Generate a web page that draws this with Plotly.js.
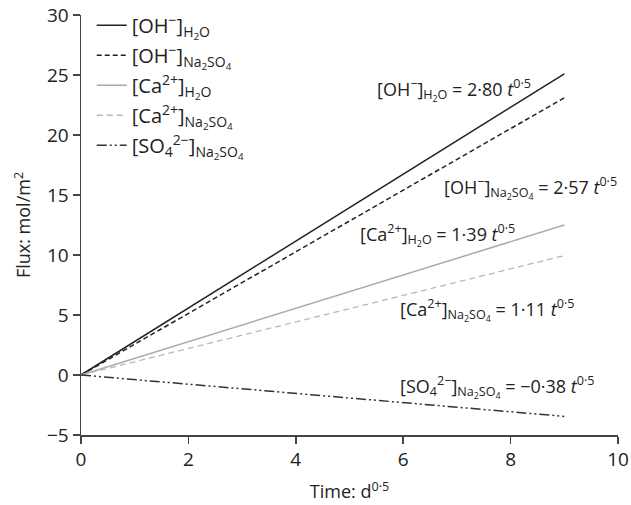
<!DOCTYPE html>
<html><head><meta charset="utf-8">
<script src="https://cdn.plot.ly/plotly-3.0.1.min.js"></script>
<style>html,body{margin:0;padding:0;background:#fff}</style>
</head><body>
<div id="chart" style="width:631px;height:505px"></div>
<script>
const timeX = [0, 9];
const ohH2O = [0, 25.1];
const ohNa2SO4 = [0, 23.1];
const caH2O = [0, 12.5];
const caNa2SO4 = [0, 9.95];
const so4Na2SO4 = [0, -3.45];
const seriesNames = [
  '[OH<sup>−</sup>]<sub>H<sub>2</sub>O</sub>',
  '[OH<sup>−</sup>]<sub>Na<sub>2</sub>SO<sub>4</sub></sub>',
  '[Ca<sup>2+</sup>]<sub>H<sub>2</sub>O</sub>',
  '[Ca<sup>2+</sup>]<sub>Na<sub>2</sub>SO<sub>4</sub></sub>',
  '[SO<sub>4</sub><sup>2−</sup>]<sub>Na<sub>2</sub>SO<sub>4</sub></sub>'
];
const eqTexts = [
  '[OH<sup>−</sup>]<sub>H<sub>2</sub>O</sub> = 2·80 <i>t</i><sup>0·5</sup>',
  '[OH<sup>−</sup>]<sub>Na<sub>2</sub>SO<sub>4</sub></sub> = 2·57 <i>t</i><sup>0·5</sup>',
  '[Ca<sup>2+</sup>]<sub>H<sub>2</sub>O</sub> = 1·39 <i>t</i><sup>0·5</sup>',
  '[Ca<sup>2+</sup>]<sub>Na<sub>2</sub>SO<sub>4</sub></sub> = 1·11 <i>t</i><sup>0·5</sup>',
  '[SO<sub>4</sub><sup>2−</sup>]<sub>Na<sub>2</sub>SO<sub>4</sub></sub> = −0·38 <i>t</i><sup>0·5</sup>'
];
const eqX = [8.42, 10, 5.16, 5.9, 5.9];
const eqY = [23.75, 15.6, 11.67, 5.42, -1.0];
const eqAnchor = ['right', 'right', 'left', 'left', 'left'];
const eqShift = [0, 1, 0, 0, 0];

const ys = [ohH2O, ohNa2SO4, caH2O, caNa2SO4, so4Na2SO4];
const colors = ['#222222', '#222222', '#aaaaaa', '#b8b8b8', '#333333'];
const dashes = ['solid', '5px,3px', 'solid', '6px,4px', '10px,3px,2px,3px,2px,3px'];
const widths = [1.5, 1.5, 1.5, 1.3, 1.5];

const traces = ys.map((y, i) => ({
  x: timeX, y: y, type: 'scatter', mode: 'lines', name: seriesNames[i],
  legendgroup: 'g' + i,
  line: {color: colors[i], dash: dashes[i], width: widths[i]}
}));

const font = 'Open Sans, Noto Sans, sans-serif';
const layout = {
  width: 631, height: 505,
  margin: {l: 81, r: 13, t: 15, b: 70, autoexpand: false},
  paper_bgcolor: '#fff', plot_bgcolor: '#fff',
  font: {family: font, color: '#222', size: 18},
  showlegend: true,
  legend: {x: 0.02, y: 1.022, xanchor: 'left', yanchor: 'top', bgcolor: 'rgba(0,0,0,0)',
    font: {size: 20, family: font, color: '#222'}, tracegroupgap: 1, itemwidth: 30},
  xaxis: {range: [0, 10], dtick: 2, ticks: 'outside', ticklen: 7, tickwidth: 1.5, tickcolor: '#444',
    showline: true, linecolor: '#444', linewidth: 1.5, showgrid: false, zeroline: false,
    tickfont: {size: 19, family: font, color: '#222'},
    title: {text: 'Time: d<sup>0·5</sup>', font: {size: 18, family: font, color: '#222'}, standoff: 14}},
  yaxis: {range: [-5, 30], dtick: 5, ticks: 'outside', ticklen: 7, tickwidth: 1.5, tickcolor: '#444',
    showline: true, linecolor: '#444', linewidth: 1.5, showgrid: false, zeroline: false,
    tickfont: {size: 19, family: font, color: '#222'},
    title: {text: 'Flux: mol/m<sup>2</sup>', font: {size: 18, family: font, color: '#222'}, standoff: 11}},
  annotations: eqTexts.map((t, i) => ({
    x: eqX[i], y: eqY[i], xref: 'x', yref: 'y', text: t, showarrow: false, xshift: eqShift[i],
    xanchor: eqAnchor[i], yanchor: 'middle', font: {size: 18, family: font, color: '#222'}
  }))
};
Plotly.newPlot('chart', traces, layout, {displayModeBar: false, staticPlot: true});
</script>
</body></html>
